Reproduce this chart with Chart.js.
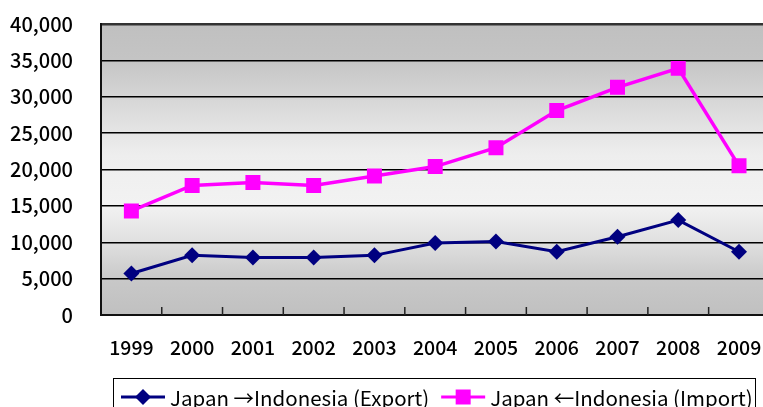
<!DOCTYPE html>
<html>
<head>
<meta charset="utf-8">
<script src="https://cdn.jsdelivr.net/npm/chart.js@4/dist/chart.umd.min.js"></script>
<style>
  html, body { margin: 0; padding: 0; background: #fff; overflow: hidden; }
  #wrap { width: 780px; height: 407px; }
</style>
</head>
<body>
<div id="wrap"><canvas id="myChart" width="780" height="407"></canvas></div>
<script>
'use strict';

// ********** DOM WINDOWS **********

let displayChart = document.querySelector('#myChart');

// ********** DATA **********

let years = ['1999', '2000', '2001', '2002', '2003', '2004', '2005', '2006', '2007', '2008', '2009'];
let exportValues = [5700, 8200, 7900, 7900, 8200, 9900, 10100, 8700, 10750, 13050, 8700];
let importValues = [14300, 17800, 18200, 17800, 19100, 20400, 23000, 28100, 31300, 33900, 20500];
let seriesNames = ['Japan \u2192Indonesia (Export)', 'Japan \u2190Indonesia (Import)'];
let yTicks = [0, 5000, 10000, 15000, 20000, 25000, 30000, 35000, 40000];

let fontFamily = '"Noto Sans CJK JP", "Liberation Sans", sans-serif';

// ********** PLUGINS **********

// gray gradient behind the plot
let backgroundPlugin = {
  id: 'plotBackground',
  beforeDraw(chart) {
    let {ctx, chartArea} = chart;
    let g = ctx.createLinearGradient(0, chartArea.top, 0, chartArea.bottom);
    g.addColorStop(0, '#c0c0c0');
    g.addColorStop(0.12, '#c4c4c4');
    g.addColorStop(0.3, '#dcdcdc');
    g.addColorStop(0.45, '#eeeeee');
    g.addColorStop(0.62, '#f2f2f2');
    g.addColorStop(0.75, '#e0e0e0');
    g.addColorStop(0.88, '#c8c8c8');
    g.addColorStop(1, '#c0c0c0');
    ctx.save();
    ctx.fillStyle = g;
    ctx.fillRect(chartArea.left, chartArea.top, chartArea.right - chartArea.left, chartArea.bottom - chartArea.top);
    ctx.restore();
  }
};

// marker used in the legend, same shape as on the chart
function drawMarker(ctx, ds, cx, cy) {
  let r = ds.pointRadius;
  ctx.fillStyle = ds.backgroundColor;
  ctx.beginPath();
  if (ds.pointStyle === 'rect') {
    let s = Math.SQRT1_2 * r;
    ctx.rect(cx - s, cy - s, 2 * s, 2 * s);
  } else {
    ctx.moveTo(cx, cy - r);
    ctx.lineTo(cx + r, cy);
    ctx.lineTo(cx, cy + r);
    ctx.lineTo(cx - r, cy);
    ctx.closePath();
  }
  ctx.fill();
}

// small inward ticks on the x axis + boxed legend
let extrasPlugin = {
  id: 'extras',
  afterDraw(chart) {
    let {ctx, chartArea} = chart;
    let xScale = chart.scales.x;
    ctx.save();

    // x tick marks between categories
    ctx.strokeStyle = '#222';
    ctx.lineWidth = 1.5;
    for (let i = 1; i < years.length; i++) {
      let x = (xScale.getPixelForValue(i - 1) + xScale.getPixelForValue(i)) / 2;
      ctx.beginPath();
      ctx.moveTo(x, chartArea.bottom);
      ctx.lineTo(x, chartArea.bottom - 8);
      ctx.stroke();
    }

    // legend
    let ly = 397;
    ctx.strokeStyle = '#000';
    ctx.lineWidth = 1;
    ctx.strokeRect(113.5, 378.5, 642, 40);
    ctx.font = '20.5px ' + fontFamily;
    ctx.textBaseline = 'middle';
    ctx.textAlign = 'left';

    let x = 121;
    chart.data.datasets.forEach(function(ds) {
      ctx.strokeStyle = ds.borderColor;
      ctx.lineWidth = 3;
      ctx.beginPath();
      ctx.moveTo(x, ly);
      ctx.lineTo(x + 44, ly);
      ctx.stroke();
      drawMarker(ctx, ds, x + 22, ly);
      ctx.fillStyle = '#000';
      ctx.fillText(ds.label, x + 49, ly + 1);
      x = x + 49 + ctx.measureText(ds.label).width + 12;
    });

    ctx.restore();
  }
};

// ********** CHART **********

let chartData = {
  type: 'line',
  data: {
    labels: years,
    datasets: [
      {
        label: seriesNames[0],
        data: exportValues,
        borderColor: '#000080',
        backgroundColor: '#000080',
        borderWidth: 3,
        pointStyle: 'rectRot',
        pointRadius: 8,
        pointBorderWidth: 0,
        tension: 0
      },
      {
        label: seriesNames[1],
        data: importValues,
        borderColor: '#ff00ff',
        backgroundColor: '#ff00ff',
        borderWidth: 3.5,
        pointStyle: 'rect',
        pointRadius: 10.6,
        pointBorderWidth: 0,
        tension: 0
      }
    ]
  },
  options: {
    responsive: false,
    animation: false,
    devicePixelRatio: 1,
    layout: {padding: {top: 24, right: 8, left: 0, bottom: 0}},
    plugins: {
      legend: {display: false},
      tooltip: {enabled: false}
    },
    scales: {
      x: {
        offset: true,
        grid: {display: false, drawTicks: false},
        border: {display: true, color: '#111', width: 2},
        ticks: {
          color: '#000',
          padding: 21,
          maxRotation: 0,
          font: {family: fontFamily, size: 19.5, weight: 500}
        },
        afterFit(scale) {
          scale.height = 92;
          scale.paddingLeft = 0;
          scale.paddingRight = 0;
        }
      },
      y: {
        min: 0,
        max: 40000,
        afterBuildTicks(scale) { scale.ticks = yTicks.map(v => ({value: v})); },
        grid: {
          drawTicks: false,
          color: ctx => ctx.tick && ctx.tick.value === 40000 ? '#333' : '#000',
          lineWidth: ctx => ctx.tick && ctx.tick.value === 40000 ? 2.5 : 1.5
        },
        border: {display: true, color: '#111', width: 2},
        ticks: {
          color: '#000',
          padding: 28,
          font: {family: fontFamily, size: 20, weight: 500},
          callback: v => v.toLocaleString('en-US')
        },
        afterFit(scale) {
          scale.width = 101;
          scale.paddingTop = 0;
          scale.paddingBottom = 0;
        }
      }
    }
  },
  plugins: [backgroundPlugin, extrasPlugin]
};

new Chart(displayChart, chartData);
</script>
</body>
</html>
